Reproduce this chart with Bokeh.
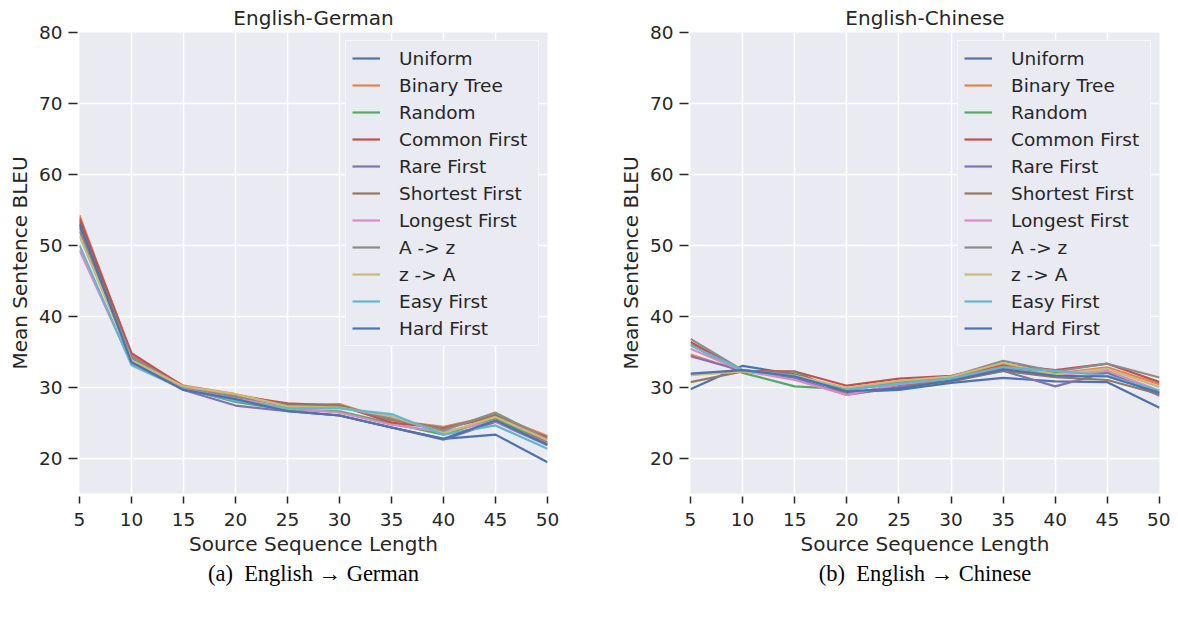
from bokeh.plotting import figure
from bokeh.layouts import row
from bokeh.models import FixedTicker, Range1d, Title, Legend, LegendItem
from bokeh.embed import file_html
from bokeh.resources import INLINE

lengths = [5, 10, 15, 20, 25, 30, 35, 40, 45, 50]
series_names = ["Uniform", "Binary Tree", "Random", "Common First", "Rare First",
                "Shortest First", "Longest First", "A -> z", "z -> A",
                "Easy First", "Hard First"]
colors = ["#4C72B0", "#DD8452", "#55A868", "#C44E52", "#8172B3", "#937860",
          "#DA8BC3", "#8C8C8C", "#CCB974", "#64B5CD", "#4C72B0"]

# English-German
de_uniform = [53.5, 33.6, 29.7, 28.3, 26.7, 26.0, 24.3, 22.7, 23.3, 19.4]
de_binary_tree = [54.2, 34.5, 30.2, 29.0, 27.5, 27.6, 25.3, 24.4, 26.0, 23.1]
de_random = [53.2, 34.0, 29.8, 27.9, 26.8, 26.6, 24.9, 23.3, 25.6, 22.0]
de_common_first = [53.8, 34.8, 30.1, 28.8, 27.7, 27.4, 25.0, 24.2, 25.8, 22.9]
de_rare_first = [52.5, 33.8, 29.6, 27.4, 26.6, 26.0, 24.3, 22.6, 25.1, 21.8]
de_shortest_first = [52.8, 34.3, 30.0, 28.6, 27.6, 27.4, 25.4, 24.2, 26.1, 22.2]
de_longest_first = [49.3, 33.3, 29.8, 28.4, 27.0, 26.4, 24.7, 23.7, 25.2, 22.0]
de_a_to_z = [52.0, 34.2, 30.0, 28.7, 27.3, 27.2, 25.6, 23.9, 26.4, 22.7]
de_z_to_a = [51.3, 33.8, 30.1, 29.0, 27.3, 27.1, 25.9, 23.5, 25.8, 22.5]
de_easy_first = [50.0, 33.1, 29.7, 28.1, 27.0, 27.0, 26.2, 23.3, 24.6, 21.3]
de_hard_first = [53.0, 33.5, 29.6, 28.3, 26.6, 26.0, 24.3, 22.7, 25.3, 21.9]

# English-Chinese
zh_uniform = [29.7, 33.0, 31.8, 29.3, 29.6, 30.6, 31.3, 30.8, 30.7, 27.1]
zh_binary_tree = [34.6, 32.2, 31.6, 29.6, 30.6, 31.3, 33.0, 31.9, 32.8, 30.4]
zh_random = [36.0, 32.0, 30.1, 29.7, 30.5, 31.2, 32.8, 32.0, 32.0, 29.2]
zh_common_first = [36.35, 32.3, 32.2, 30.2, 31.2, 31.6, 33.2, 32.4, 33.3, 30.7]
zh_rare_first = [34.35, 32.3, 31.3, 28.9, 30.0, 31.0, 32.3, 30.1, 32.1, 28.8]
zh_shortest_first = [30.7, 32.2, 32.2, 29.0, 30.3, 30.8, 32.3, 31.4, 31.0, 29.0]
zh_longest_first = [35.4, 32.3, 31.0, 28.9, 30.4, 31.2, 32.6, 31.7, 32.3, 29.5]
zh_a_to_z = [36.8, 32.4, 31.7, 29.6, 30.8, 31.5, 33.7, 32.2, 33.3, 31.35]
zh_z_to_a = [31.7, 32.2, 31.6, 29.9, 30.9, 31.5, 33.4, 31.8, 32.6, 30.0]
zh_easy_first = [35.9, 32.4, 31.5, 29.6, 30.5, 31.2, 32.8, 32.3, 31.6, 29.5]
zh_hard_first = [31.9, 32.4, 31.5, 29.4, 29.8, 30.9, 32.5, 31.6, 31.5, 29.2]

x_ticks = [5, 10, 15, 20, 25, 30, 35, 40, 45, 50]
y_ticks = [20, 30, 40, 50, 60, 70, 80]

de_series = [de_uniform, de_binary_tree, de_random, de_common_first, de_rare_first,
             de_shortest_first, de_longest_first, de_a_to_z, de_z_to_a,
             de_easy_first, de_hard_first]
zh_series = [zh_uniform, zh_binary_tree, zh_random, zh_common_first, zh_rare_first,
             zh_shortest_first, zh_longest_first, zh_a_to_z, zh_z_to_a,
             zh_easy_first, zh_hard_first]

FONT = "DejaVu Sans"
TXT = "#262626"
BG = "#EAEAF2"


def make_panel(title, caption, data, width, border_left, border_right):
    p = figure(width=width, height=605,
               min_border_left=border_left, min_border_right=border_right,
               min_border_top=25, min_border_bottom=112,
               x_range=Range1d(5, 50), y_range=Range1d(15, 80),
               output_backend="svg", toolbar_location=None,
               background_fill_color=BG, border_fill_color="white")
    p.outline_line_color = None
    p.title.text = title
    p.title.align = "center"
    p.title.text_font = FONT
    p.title.text_font_size = "20px"
    p.title.text_font_style = "normal"
    p.title.text_color = TXT
    p.title.standoff = 6

    p.xaxis.ticker = FixedTicker(ticks=x_ticks)
    p.yaxis.ticker = FixedTicker(ticks=y_ticks)
    p.xaxis.axis_label = "Source Sequence Length"
    p.yaxis.axis_label = "Mean Sentence BLEU"
    for ax in (p.xaxis, p.yaxis):
        ax.axis_line_color = None
        ax.minor_tick_line_color = None
        ax.major_tick_line_color = TXT
        ax.major_tick_line_width = 1.5
        ax.major_label_text_font = FONT
        ax.major_label_text_font_size = "18.5px"
        ax.major_label_text_color = TXT
        ax.axis_label_text_font = FONT
        ax.axis_label_text_font_size = "20px"
        ax.axis_label_text_font_style = "normal"
        ax.axis_label_text_color = TXT
    p.xaxis.major_tick_in = -3
    p.xaxis.major_tick_out = 10
    p.xaxis.major_label_standoff = 9
    p.xaxis.axis_label_standoff = 3
    p.yaxis.major_tick_in = -2
    p.yaxis.major_tick_out = 11
    p.yaxis.major_label_standoff = 6
    p.yaxis.axis_label_standoff = 4

    p.xgrid.grid_line_color = "white"
    p.ygrid.grid_line_color = "white"
    p.xgrid.grid_line_width = 1.5
    p.ygrid.grid_line_width = 1.5

    items = []
    for name, color, ys in zip(series_names, colors, data):
        r = p.line(lengths, ys, line_color=color, line_width=2.2)
        items.append(LegendItem(label=name, renderers=[r]))

    legend = Legend(items=items, location="top_right", margin=8, padding=6,
                    spacing=5, glyph_width=28, glyph_height=22, label_height=22,
                    label_width=133, label_standoff=19,
                    label_text_font=FONT, label_text_font_size="18.5px",
                    label_text_color=TXT,
                    background_fill_color=BG, background_fill_alpha=1.0,
                    border_line_color="white", border_line_width=1.5)
    p.add_layout(legend)

    cap = Title(text=caption, align="center", vertical_align="bottom",
                text_font="Liberation Serif",
                text_font_size="22.5px", text_font_style="normal",
                text_color="black", standoff=0)
    p.add_layout(cap, "below")
    return p


p1 = make_panel("English-German", "(a)\u00a0 English \u2192 German", de_series, 610, 79, 63)
p2 = make_panel("English-Chinese", "(b)\u00a0 English \u2192 Chinese", zh_series, 560, 80, 11)

layout = row(p1, p2)
open("out.html", "w").write(file_html(layout, INLINE))
